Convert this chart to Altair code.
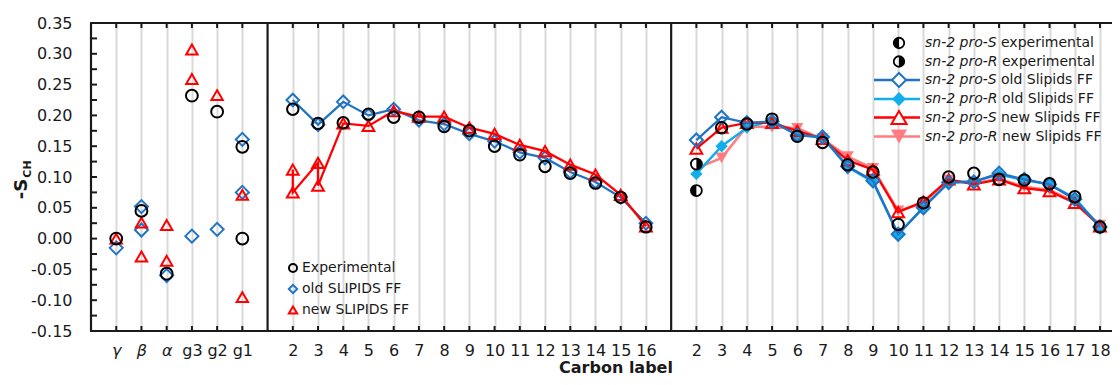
import altair as alt
import pandas as pd

# ---------------- categories ----------------
head_labels = ["γ", "β", "α", "g3", "g2", "g1"]
sn1_carbons = list(range(2, 17))
sn2_carbons = list(range(2, 19))

# ---------------- head group / glycerol ----------------
head_exp_lab = ["γ", "β", "α", "g3", "g2", "g1", "g1"]
head_exp_val = [0.000, 0.045, -0.057, 0.232, 0.206, 0.149, 0.000]
head_old_lab = ["γ", "β", "β", "α", "g3", "g2", "g1", "g1"]
head_old_val = [-0.015, 0.052, 0.014, -0.060, 0.004, 0.015, 0.161, 0.075]
head_new_lab = ["γ", "β", "β", "α", "α", "g3", "g3", "g2", "g1", "g1"]
head_new_val = [0.000, 0.026, -0.029, 0.022, -0.036, 0.307, 0.259, 0.233, 0.071, -0.095]

# ---------------- sn-1 chain ----------------
sn1_exp = [0.210, 0.187, 0.188, 0.202, 0.197, 0.197, 0.182, 0.175, 0.150, 0.136,
           0.117, 0.106, 0.090, 0.067, 0.019]
sn1_old = [0.225, 0.185, 0.222, 0.200, 0.210, 0.192, 0.186, 0.170, 0.158, 0.140,
           0.131, 0.108, 0.092, 0.067, 0.025]
sn1_new_carbon = [2, 2, 3, 3, 4, 5, 6, 7, 8, 9, 10, 11, 12, 13, 14, 15, 16]
sn1_new_val = [0.112, 0.075, 0.123, 0.086, 0.187, 0.183, 0.207, 0.198, 0.198, 0.180,
               0.170, 0.152, 0.142, 0.120, 0.104, 0.071, 0.020]

# ---------------- sn-2 chain ----------------
sn2_exp_S_c2 = 0.078
sn2_exp_R_c2 = 0.121
sn2_exp_carbons = list(range(3, 19))
sn2_exp = [0.180, 0.186, 0.194, 0.166, 0.156, 0.120, 0.108, 0.023, 0.058, 0.100,
           0.106, 0.096, 0.095, 0.089, 0.068, 0.019]
sn2_old_S = [0.160, 0.197, 0.188, 0.190, 0.168, 0.165, 0.117, 0.094, 0.007, 0.050,
             0.091, 0.092, 0.106, 0.096, 0.088, 0.064, 0.019]
sn2_old_R = [0.105, 0.150, 0.180, 0.192, 0.168, 0.164, 0.116, 0.092, 0.007, 0.051,
             0.091, 0.093, 0.104, 0.095, 0.088, 0.066, 0.019]
sn2_new_S = [0.146, 0.180, 0.188, 0.188, 0.175, 0.162, 0.127, 0.112, 0.043, 0.060,
             0.096, 0.088, 0.096, 0.082, 0.077, 0.058, 0.020]
sn2_new_R = [0.114, 0.131, 0.182, 0.181, 0.179, 0.162, 0.133, 0.114, 0.045, 0.058,
             0.095, 0.090, 0.097, 0.084, 0.079, 0.060, 0.022]

# ---------------- position mapping on one shared axis ----------------
def head_pos(lab):
    return head_labels.index(lab) + 1

def sn1_pos(c):
    return c + 6

def sn2_pos(c):
    return c + 22

dividers = [7, 23]
tick_positions = [head_pos(l) for l in head_labels] + [sn1_pos(c) for c in sn1_carbons] + [sn2_pos(c) for c in sn2_carbons]
label_arr = [""] * 41
for l in head_labels:
    label_arr[head_pos(l)] = l
for c in sn1_carbons:
    label_arr[sn1_pos(c)] = str(c)
for c in sn2_carbons:
    label_arr[sn2_pos(c)] = str(c)
label_expr = "[" + ",".join("'" + s + "'" for s in label_arr) + "][datum.value]"

y_ticks_major = [round(-0.15 + 0.05 * i, 3) for i in range(11)]
y_ticks_all = [round(-0.15 + 0.025 * i, 4) for i in range(21)]

# ---------------- styling ----------------
W, H = 1013, 308
XMAX = 40.16
FONT = "DejaVu Sans"
INK = "#1a1a1a"
BLUE = "#1F74C4"
LBLUE = "#12AEEB"
RED = "#FF0000"
PINK = "#FF7C80"

xscale = alt.Scale(domain=[0, XMAX], nice=False, zero=False)
yscale = alt.Scale(domain=[-0.15, 0.35], nice=False, zero=False)

xaxis = alt.Axis(values=tick_positions, grid=True, gridColor="#d9d9d9", gridWidth=2,
                 domain=False, ticks=False, tickSize=0, labelExpr=label_expr,
                 labelFont=FONT, labelFontSize=16, labelColor=INK, labelPadding=11,
                 labelAngle=0, labelOverlap=False, labelFlush=False, title=None,
                 labelFontStyle={"condition": {"test": "datum.value <= 3", "value": "italic"},
                                 "value": "normal"})
yaxis = alt.Axis(values=y_ticks_major, grid=False, domain=False, ticks=False, tickSize=0,
                 labelExpr="(datum.value < -0.0001 ? '-' : '') + format(abs(datum.value), '.2f')",
                 labelFont=FONT, labelFontSize=16, labelColor=INK, labelPadding=19,
                 labelOverlap=False, title=None)


def X():
    return alt.X("pos:Q", scale=xscale, axis=xaxis)


def Y():
    return alt.Y("v:Q", scale=yscale, axis=yaxis)


dummy = pd.DataFrame({"d": [0]})


def df_of(pos, vals):
    return pd.DataFrame({"pos": pos, "v": vals, "ord": list(range(len(vals)))})


def pts(df, shape, size, color, filled=False, sw=2.0):
    if filled:
        m = alt.Chart(df).mark_point(shape=shape, size=size, filled=True, color=color,
                                     opacity=1, strokeWidth=0)
    else:
        m = alt.Chart(df).mark_point(shape=shape, size=size, filled=False, color=color,
                                     opacity=1, strokeWidth=sw)
    return m.encode(x=X(), y=Y())


def line(df, color, sw=2.3):
    return alt.Chart(df).mark_line(color=color, strokeWidth=sw).encode(
        x=X(), y=Y(), order=alt.Order("ord:Q"))


LEFT_HALF = "M0,-1A1,1,0,0,0,0,1Z"
RIGHT_HALF = "M0,-1A1,1,0,0,1,0,1Z"

layers = []

# frame, dividers and inward ticks
frame_color = "#1a1a1a"
layers.append(alt.Chart(pd.DataFrame({"pos": dividers, "v": [0, 0]})).mark_rule(
    color=frame_color, strokeWidth=2.2).encode(x=X(), y=alt.value(0), y2=alt.value(H)))
layers.append(alt.Chart(dummy).mark_rule(color=frame_color, strokeWidth=2.2).encode(
    x=alt.value(0), y=alt.value(0), y2=alt.value(H)))
layers.append(alt.Chart(dummy).mark_rule(color=frame_color, strokeWidth=2.2).encode(
    x=alt.value(-1), x2=alt.value(W + 8), y=alt.value(0)))
layers.append(alt.Chart(dummy).mark_rule(color=frame_color, strokeWidth=2.2).encode(
    x=alt.value(-1), x2=alt.value(W + 8), y=alt.value(H)))
tick_df = pd.DataFrame({"pos": tick_positions})
layers.append(alt.Chart(tick_df).mark_rule(color=frame_color, strokeWidth=2).encode(
    x=X(), y=alt.value(0), y2=alt.value(5)))
layers.append(alt.Chart(tick_df).mark_rule(color=frame_color, strokeWidth=2).encode(
    x=X(), y=alt.value(H - 5), y2=alt.value(H)))
ytick_df = pd.DataFrame({"v": y_ticks_all})
layers.append(alt.Chart(ytick_df).mark_rule(color=frame_color, strokeWidth=2).encode(
    y=Y(), x=alt.value(0), x2=alt.value(6)))

# ---- head group panel ----
layers.append(pts(df_of([head_pos(l) for l in head_old_lab], head_old_val), "diamond", 170, BLUE))
layers.append(pts(df_of([head_pos(l) for l in head_new_lab], head_new_val), "triangle-up", 130, RED))
layers.append(pts(df_of([head_pos(l) for l in head_exp_lab], head_exp_val), "circle", 140, "black"))

# ---- sn-1 panel ----
sn1_old_df = df_of([sn1_pos(c) for c in sn1_carbons], sn1_old)
sn1_new_df = df_of([sn1_pos(c) for c in sn1_new_carbon], sn1_new_val)
layers.append(line(sn1_old_df, BLUE))
layers.append(pts(sn1_old_df, "diamond", 160, BLUE))
layers.append(line(sn1_new_df, RED))
layers.append(pts(sn1_new_df, "triangle-up", 140, RED))
layers.append(pts(df_of([sn1_pos(c) for c in sn1_carbons], sn1_exp), "circle", 130, "black"))

# ---- sn-2 panel ----
sn2_x = [sn2_pos(c) for c in sn2_carbons]
newR_df = df_of(sn2_x, sn2_new_R)
newS_df = df_of(sn2_x, sn2_new_S)
oldR_df = df_of(sn2_x, sn2_old_R)
oldS_df = df_of(sn2_x, sn2_old_S)
layers.append(line(newR_df, PINK, 2.6))
layers.append(pts(newR_df, "triangle-down", 150, PINK, filled=True))
layers.append(line(oldR_df, LBLUE, 2.4))
layers.append(pts(oldR_df, "diamond", 150, LBLUE, filled=True))
layers.append(line(newS_df, RED))
layers.append(pts(newS_df, "triangle-up", 140, RED))
layers.append(line(oldS_df, BLUE))
layers.append(pts(oldS_df, "diamond", 170, BLUE))
layers.append(pts(df_of([sn2_pos(c) for c in sn2_exp_carbons], sn2_exp), "circle", 130, "black"))

# half-filled experimental points at sn-2 C2
half_df_S = df_of([sn2_pos(2)], [sn2_exp_S_c2])
half_df_R = df_of([sn2_pos(2)], [sn2_exp_R_c2])
for hdf, path in [(half_df_S, LEFT_HALF), (half_df_R, RIGHT_HALF)]:
    layers.append(alt.Chart(hdf).mark_point(shape="circle", size=120, filled=True, fill="white",
                                            stroke="black", strokeWidth=1.8, opacity=1).encode(x=X(), y=Y()))
    layers.append(alt.Chart(hdf).mark_point(shape=path, size=120, filled=True, fill="black",
                                            strokeWidth=0, opacity=1).encode(x=X(), y=Y()))


# ---------------- legends (annotation) ----------------
def sym(px, py, shape, size, color, filled=False, sw=2.0, fill=None):
    kw = dict(shape=shape, size=size, opacity=1)
    if filled:
        kw.update(filled=True, fill=fill or color, strokeWidth=0)
    else:
        kw.update(filled=False, stroke=color, strokeWidth=sw)
    return alt.Chart(dummy).mark_point(**kw).encode(x=alt.value(px), y=alt.value(py))


def txt(px, py, s, size=14, style="normal", weight="normal", align="left", angle=0):
    return alt.Chart(dummy).mark_text(text=s, font=FONT, fontSize=size, fontStyle=style,
                                      fontWeight=weight, align=align, baseline="middle",
                                      color=INK, angle=angle).encode(
        x=alt.value(px), y=alt.value(py))


# middle legend
mid_rows = [245, 266, 287]
layers.append(sym(202, mid_rows[0], "circle", 64, "black", sw=2))
layers.append(sym(202, mid_rows[1], "diamond", 70, BLUE, sw=2))
layers.append(sym(202, mid_rows[2], "triangle-up", 70, RED, sw=2))
layers.append(txt(211, mid_rows[0], "Experimental"))
layers.append(txt(211, mid_rows[1], "old SLIPIDS FF"))
layers.append(txt(211, mid_rows[2], "new SLIPIDS FF"))

# right legend
r_rows = [20, 38.5, 57, 76, 94.5, 113.5]
lx0, lx1, sx, tx = 783, 829, 808, 834
layers.append(sym(sx, r_rows[0], "circle", 110, "black", sw=1.8))
layers.append(sym(sx, r_rows[0], LEFT_HALF, 110, "black", filled=True))
layers.append(sym(sx, r_rows[1], "circle", 110, "black", sw=1.8))
layers.append(sym(sx, r_rows[1], RIGHT_HALF, 110, "black", filled=True))
for row, color, w in [(2, BLUE, 2.3), (3, LBLUE, 2.4), (4, RED, 2.3), (5, PINK, 2.6)]:
    layers.append(alt.Chart(dummy).mark_rule(color=color, strokeWidth=w).encode(
        x=alt.value(lx0), x2=alt.value(lx1), y=alt.value(r_rows[row])))
layers.append(sym(sx, r_rows[2], "diamond", 200, BLUE, sw=2, filled=True, fill="white"))
layers.append(sym(sx, r_rows[2], "diamond", 200, BLUE, sw=2))
layers.append(sym(sx, r_rows[3], "diamond", 190, LBLUE, filled=True))
layers.append(sym(sx, r_rows[4], "triangle-up", 230, RED, filled=True, fill="white"))
layers.append(sym(sx, r_rows[4], "triangle-up", 230, RED, sw=2))
layers.append(sym(sx, r_rows[5], "triangle-down", 260, PINK, filled=True))

legend_italic = ["sn-2 pro-S", "sn-2 pro-R", "sn-2 pro-S", "sn-2 pro-R", "sn-2 pro-S", "sn-2 pro-R"]
legend_rest = ["experimental", "experimental", "old Slipids FF", "old Slipids FF",
               "new Slipids FF", "new Slipids FF"]
for i in range(6):
    layers.append(txt(tx, r_rows[i], legend_italic[i], style="italic"))
    off = 76 if legend_italic[i].endswith("S") else 77
    layers.append(txt(tx + off, r_rows[i], legend_rest[i]))

# axis titles
layers.append(txt(525, 345, "Carbon label", size=16, weight="bold", align="center"))
layers.append(txt(-69, 166, "-S", size=18, weight="bold", align="center", angle=270))
layers.append(txt(-63, 146, "CH", size=11, weight="bold", align="center", angle=270))

chart = alt.layer(*layers).properties(
    width=W, height=H,
    autosize=alt.AutoSizeParams(type="none"),
    padding={"left": 83, "top": 15, "right": 8, "bottom": 46},
    background="white",
).configure_view(stroke=None)

chart.save("out.html", embed_options={"renderer": "svg", "actions": False})
